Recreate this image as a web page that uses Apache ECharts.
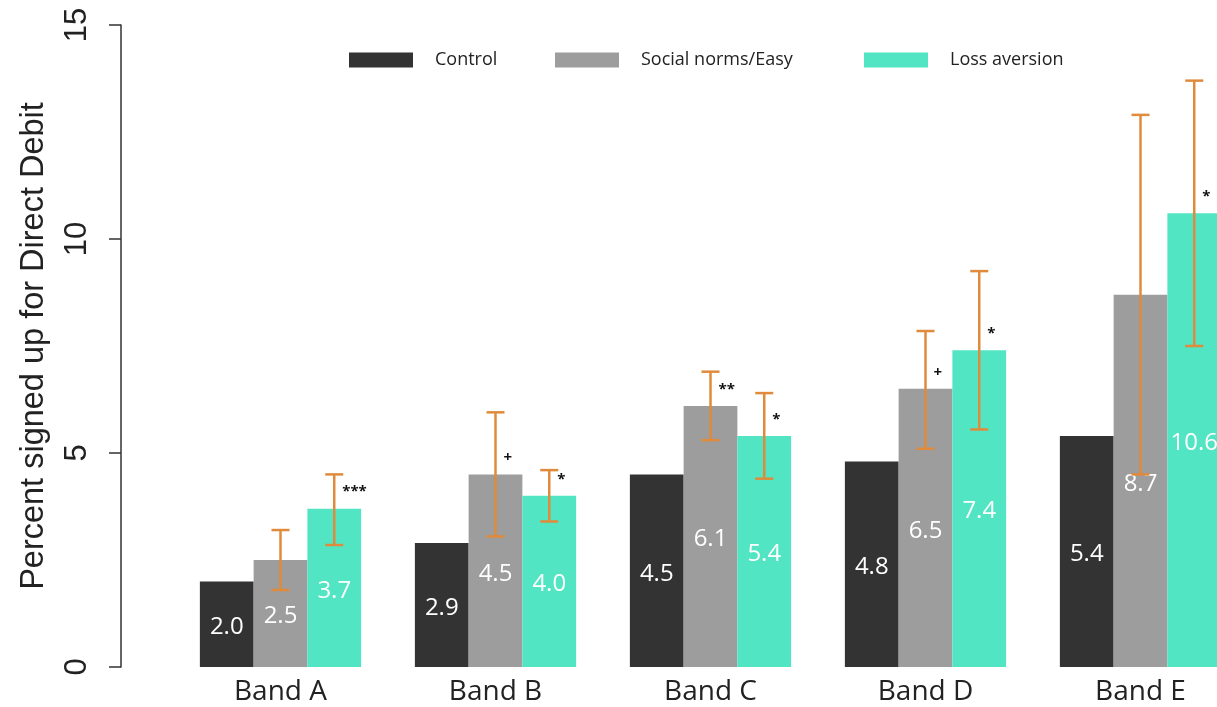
<!DOCTYPE html>
<html>
<head>
<meta charset="utf-8">
<script src="https://cdn.jsdelivr.net/npm/echarts@6/dist/echarts.min.js"></script>
<style>
  html, body { margin: 0; padding: 0; background: #ffffff; overflow: hidden; }
  /* the plot runs past the right edge of the page, so the last group is cut */
  #chart { width: 1248px; height: 707px; }
</style>
</head>
<body>
<div id="chart"></div>
<script>
// Direct Debit sign-up by arrears band and letter treatment
const categories = ['Band A', 'Band B', 'Band C', 'Band D', 'Band E'];
const seriesNames = ['Control', 'Social norms/Easy', 'Loss aversion'];

const controlValues = [2.0, 2.9, 4.5, 4.8, 5.4];
const socialValues  = [2.5, 4.5, 6.1, 6.5, 8.7];
const lossValues    = [3.7, 4.0, 5.4, 7.4, 10.6];

// 95% confidence intervals for the two treatments
const socialLow  = [1.8, 3.05, 5.3, 5.1, 4.5];
const socialHigh = [3.2, 5.95, 6.9, 7.85, 12.9];
const lossLow    = [2.85, 3.4, 4.4, 5.55, 7.5];
const lossHigh   = [4.5, 4.6, 6.4, 9.25, 13.7];

// significance markers versus control
const socialMarks = ['', '+', '**', '+', ''];
const lossMarks   = ['***', '*', '*', '*', '*'];

const colors = ['#333333', '#9d9d9d', '#52e5c3'];
const errColor = '#e08a3c';
const sansFont = '"Open Sans", sans-serif';
const axisFont = '"Liberation Sans", Arial, sans-serif';

function fmt(p) { return p.value.toFixed(1); }

function barSeries(name, values, color) {
  return {
    name: name,
    type: 'bar',
    data: values,
    barGap: 0,
    barCategoryGap: '25%',
    itemStyle: { color: color },
    label: {
      show: true,
      position: 'inside',
      offset: [0, 3],
      color: '#ffffff',
      fontFamily: sansFont,
      fontSize: 24,
      fontWeight: 500,
      formatter: fmt
    }
  };
}

// whiskers plus significance marker, placed on the bar in the given slot
function errorSeries(values, lows, highs, marks, slot) {
  return {
    type: 'custom',
    name: 'ci' + slot,
    z: 5,
    data: values.map((v, i) => [i, lows[i], highs[i], v]),
    encode: { x: 0, y: [1, 2] },
    renderItem: function (params, api) {
      const i = api.value(0);
      const band = api.size([1, 0])[0];
      const bw = band * 0.75 / 3;
      const dx = (slot - 1) * bw;
      const lo = api.coord([i, api.value(1)]);
      const hi = api.coord([i, api.value(2)]);
      const top = api.coord([i, api.value(3)]);
      const x = lo[0] + dx;
      const cap = 9;
      const st = { stroke: errColor, lineWidth: 2.5 };
      const children = [
        { type: 'line', shape: { x1: x, y1: lo[1], x2: x, y2: hi[1] }, style: st },
        { type: 'line', shape: { x1: x - cap, y1: hi[1], x2: x + cap, y2: hi[1] }, style: st },
        { type: 'line', shape: { x1: x - cap, y1: lo[1], x2: x + cap, y2: lo[1] }, style: st }
      ];
      const mark = marks[params.dataIndex];
      if (mark) {
        children.push({
          type: 'text',
          style: {
            text: mark, x: x + 8, y: top[1] - 9,
            align: 'left', verticalAlign: 'bottom',
            fill: '#111111', fontFamily: sansFont, fontSize: 15, fontWeight: 'bold'
          }
        });
      }
      return { type: 'group', children: children };
    }
  };
}

function legendAt(name, left) {
  return {
    data: [name],
    left: left,
    top: 46,
    icon: 'rect',
    itemWidth: 64,
    itemHeight: 15,
    selectedMode: false,
    textStyle: {
      fontFamily: sansFont,
      fontSize: 18,
      fontWeight: 500,
      color: '#222222',
      padding: [8, 0, 0, 17]
    }
  };
}

const chart = echarts.init(document.getElementById('chart'), null, { renderer: 'canvas' });
chart.setOption({
  animation: false,
  backgroundColor: '#ffffff',
  color: colors,
  legend: [
    legendAt(seriesNames[0], 344),
    legendAt(seriesNames[1], 550),
    legendAt(seriesNames[2], 859)
  ],
  grid: { left: 173, right: 0, top: 25, bottom: 40, containLabel: false },
  xAxis: {
    type: 'category',
    data: categories,
    axisLine: { show: false },
    axisTick: { show: false },
    axisLabel: {
      margin: 11,
      fontFamily: sansFont,
      fontSize: 28,
      color: '#222222'
    }
  },
  yAxis: {
    type: 'value',
    min: 0,
    max: 15,
    interval: 5,
    offset: 52,
    name: 'Percent signed up for Direct Debit',
    nameLocation: 'middle',
    nameRotate: 90,
    nameGap: 70,
    nameTextStyle: { fontFamily: axisFont, fontSize: 32.5, color: '#222222' },
    axisLine: { show: true, lineStyle: { color: '#333333', width: 1.5 } },
    axisTick: { show: true, length: 12, lineStyle: { color: '#333333', width: 1.5 } },
    axisLabel: { rotate: 90, margin: 28, fontFamily: axisFont, fontSize: 31, color: '#222222' },
    splitLine: { show: false }
  },
  series: [
    barSeries(seriesNames[0], controlValues, colors[0]),
    barSeries(seriesNames[1], socialValues, colors[1]),
    barSeries(seriesNames[2], lossValues, colors[2]),
    errorSeries(socialValues, socialLow, socialHigh, socialMarks, 1),
    errorSeries(lossValues, lossLow, lossHigh, lossMarks, 2)
  ]
});
</script>
</body>
</html>
